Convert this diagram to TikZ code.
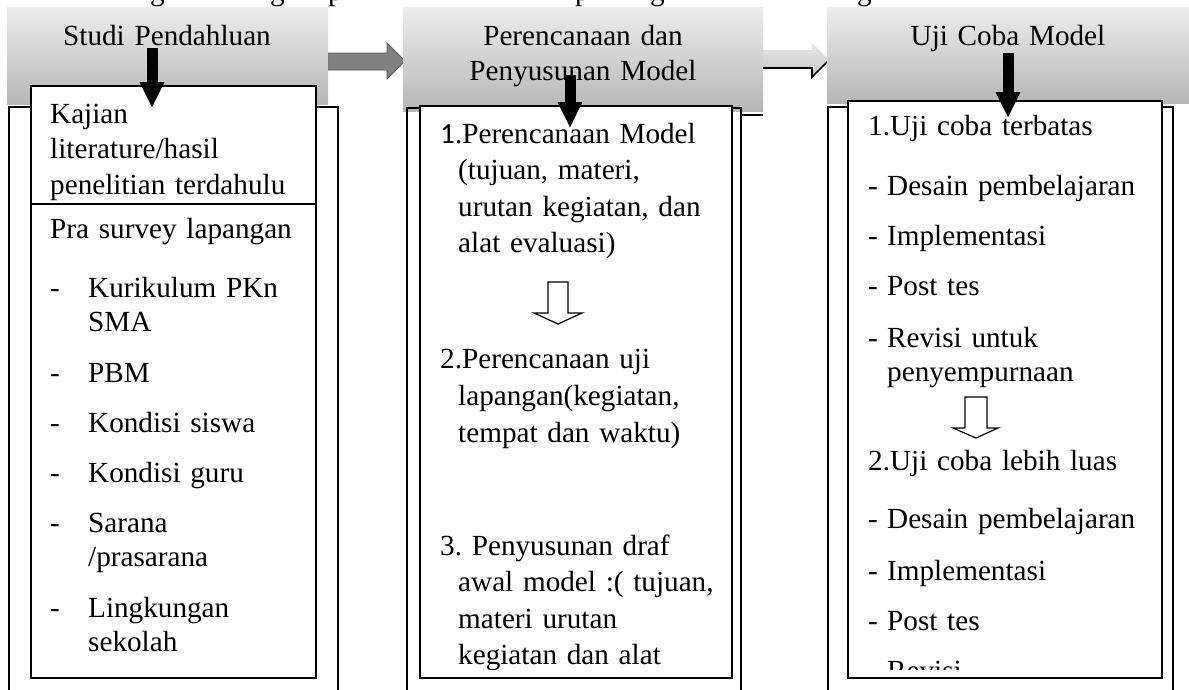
\documentclass[tikz,border=0pt]{standalone}
\usepackage{fontspec}
\setmainfont{Liberation Serif}
\newfontfamily\calfont{Carlito}
\usetikzlibrary{arrows.meta,positioning}
\frenchspacing

\definecolor{hdtop}{RGB}{237,237,237}
\definecolor{hdbot}{RGB}{182,182,182}
\definecolor{arrgray}{RGB}{128,128,128}

\tikzset{
    header/.style={top color=hdtop,bottom color=hdbot,inner sep=0pt,anchor=north west},
    frame/.style={draw,line width=1.6pt,inner sep=0pt,anchor=north west},
    panel/.style={draw,fill=white,line width=1.8pt,inner sep=0pt,anchor=north west},
    txt/.style={font=\fontsize{29.2}{34}\selectfont,text width=420pt,inner sep=0pt,anchor=base west},
    hdtxt/.style={font=\fontsize{29.2}{35}\selectfont,align=center,inner sep=0pt,anchor=base},
    frag/.style={font=\fontsize{29.2}{34}\selectfont,inner sep=0pt,anchor=base west},
    downarr/.style={line width=11pt,-{Triangle[width=23pt,length=26pt]}},
    hollow/.style={draw,fill=white,line width=1.2pt,line join=miter}
}
\newcommand{\dsh}[2][38pt]{\makebox[#1][l]{-}#2}

\begin{document}
\begin{tikzpicture}[x=1pt,y=-1pt]
    \useasboundingbox (0,0) rectangle (1189,689);

    % descenders of the line above
    \node (f1) [frag] at (150,0) {g};
    \node (f2) [frag] at (270,0) {g};
    \node (f3) [frag] at (328,0) {p};
    \node (f4) [frag] at (575,0) {p};
    \node (f5) [frag] at (650,0) {g};
    \node (f6) [frag] at (857,0) {g};

    % arrows between the stages
    \draw [fill=arrgray,draw=arrgray!70!black,line width=0.8pt]
        (328,53) -- (387,53) -- (387,43) -- (405,61) -- (387,79) -- (387,70) -- (328,70) -- cycle;
    \path [top color=gray!18,bottom color=gray!45]
        (763,50) -- (812,50) -- (812,43) -- (829,60) -- (812,77) -- (812,68) -- (763,68) -- cycle;
    \draw [line width=1.6pt] (763,68) -- (812,68) -- (812,77) -- (829,60);

    % headers
    \node (hd1) [header,minimum width=321pt,minimum height=97pt]  at (7,7)   {};
    \node (hd2) [header,minimum width=360pt,minimum height=104pt] at (403,7) {};
    \node (hd3) [header,minimum width=362pt,minimum height=96pt]  at (827,7) {};
    \node (lb1) [hdtxt,text width=321pt] at (167,45)  {Studi Pendahluan};
    \node (lb2) [hdtxt,text width=360pt] at (583,45)  {Perencanaan dan\\Penyusunan Model};
    \node (lb3) [hdtxt,text width=362pt] at (1008,45) {Uji Coba Model};

    % outer frames
    \node (fr1) [frame,minimum width=329pt,minimum height=620pt] at (8,106)   {};
    \node (fr2) [frame,minimum width=334pt,minimum height=620pt] at (406,107) {};
    \node (fr3) [frame,minimum width=345pt,minimum height=620pt] at (827,106) {};
    \draw [line width=1.6pt] (fr2.east |- 0,115) -- (hd2.east |- 0,115);

    % inner panels
    \node (kaj) [panel,minimum width=285pt,minimum height=118pt] at (30,85)   {};
    \node (pra) [panel,minimum width=285pt,minimum height=474pt] at (30,203)  {};
    \node (ren) [panel,minimum width=312pt,minimum height=572pt] at (419,105) {};
    \node (uji) [panel,minimum width=314pt,minimum height=577pt] at (847,100) {};

    \begin{scope}
        \clip (kaj.south west) rectangle (kaj.north east);
        \node (t1) [txt,font=\fontsize{29.2}{35.5}\selectfont] at (50,123)
            {Kajian\\literature/hasil\\penelitian terdahulu};
    \end{scope}
    \begin{scope}
        \clip ([yshift=9pt]pra.south west) rectangle (pra.north east);
        \node (t2) [txt] at (50,238) {Pra survey lapangan\\[25pt]
            \dsh{Kurikulum PKn}\\ \hspace*{38pt}SMA\\[17pt]
            \dsh{PBM}\\[16pt]
            \dsh{Kondisi siswa}\\[16pt]
            \dsh{Kondisi guru}\\[16pt]
            \dsh{Sarana}\\ \hspace*{38pt}/prasarana\\[17pt]
            \dsh{Lingkungan}\\ \hspace*{38pt}sekolah};
    \end{scope}
    \begin{scope}
        \clip ([yshift=9pt]ren.south west) rectangle (ren.north east);
        \node (t3) [txt,font=\fontsize{29.2}{36.5}\selectfont] at (440,143)
            {{\calfont 1}.Perencanaan Model\\ \hspace*{18pt}(tujuan, materi,\\
             \hspace*{18pt}urutan kegiatan, dan\\ \hspace*{18pt}alat evaluasi)};
        \node (t4) [txt,font=\fontsize{29.2}{37}\selectfont] at (440,368)
            {2.Perencanaan uji\\ \hspace*{18pt}lapangan(kegiatan,\\ \hspace*{18pt}tempat dan waktu)};
        \node (t5) [txt,font=\fontsize{29.2}{36.5}\selectfont] at (440,555)
            {3. Penyusunan draf\\ \hspace*{18pt}awal model :( tujuan,\\
             \hspace*{18pt}materi urutan\\ \hspace*{18pt}kegiatan dan alat};
    \end{scope}
    \begin{scope}
        \clip ([yshift=9pt]uji.south west) rectangle (uji.north east);
        \node (t6) [txt] at (868,135) {1.Uji coba terbatas\\[26pt]
            \dsh[19pt]{Desain pembelajaran}\\[16pt]
            \dsh[19pt]{Implementasi}\\[16pt]
            \dsh[19pt]{Post tes}\\[18pt]
            \dsh[19pt]{Revisi untuk}\\ \hspace*{19pt}penyempurnaan};
        \node (t7) [txt] at (868,470) {2.Uji coba lebih luas\\[24pt]
            \dsh[19pt]{Desain pembelajaran}\\[18pt]
            \dsh[19pt]{Implementasi}\\[16pt]
            \dsh[19pt]{Post tes}\\[16pt]
            \dsh[19pt]{Revisi}};
    \end{scope}

    % hollow arrows inside the panels
    \draw [hollow,shift={(558,282)}] (-10,0) -- (10,0) -- (10,31) -- (24,31) -- (0,42) -- (-24,31) -- (-10,31) -- cycle;
    \draw [hollow,shift={(976,397)}] (-11,0) -- (11,0) -- (11,31) -- (22,31) -- (0,41) -- (-23,31) -- (-11,31) -- cycle;

    % down arrows from the headers
    \coordinate (d1s) at (152,48);  \coordinate (d1e) at (152,108);
    \coordinate (d2s) at (570,75);  \coordinate (d2e) at (570,128);
    \coordinate (d3s) at (1008,53); \coordinate (d3e) at (1008,118);
    \draw [downarr] (d1s) -- (d1e);
    \draw [downarr] (d2s) -- (d2e);
    \draw [downarr] (d3s) -- (d3e);
\end{tikzpicture}
\end{document}
